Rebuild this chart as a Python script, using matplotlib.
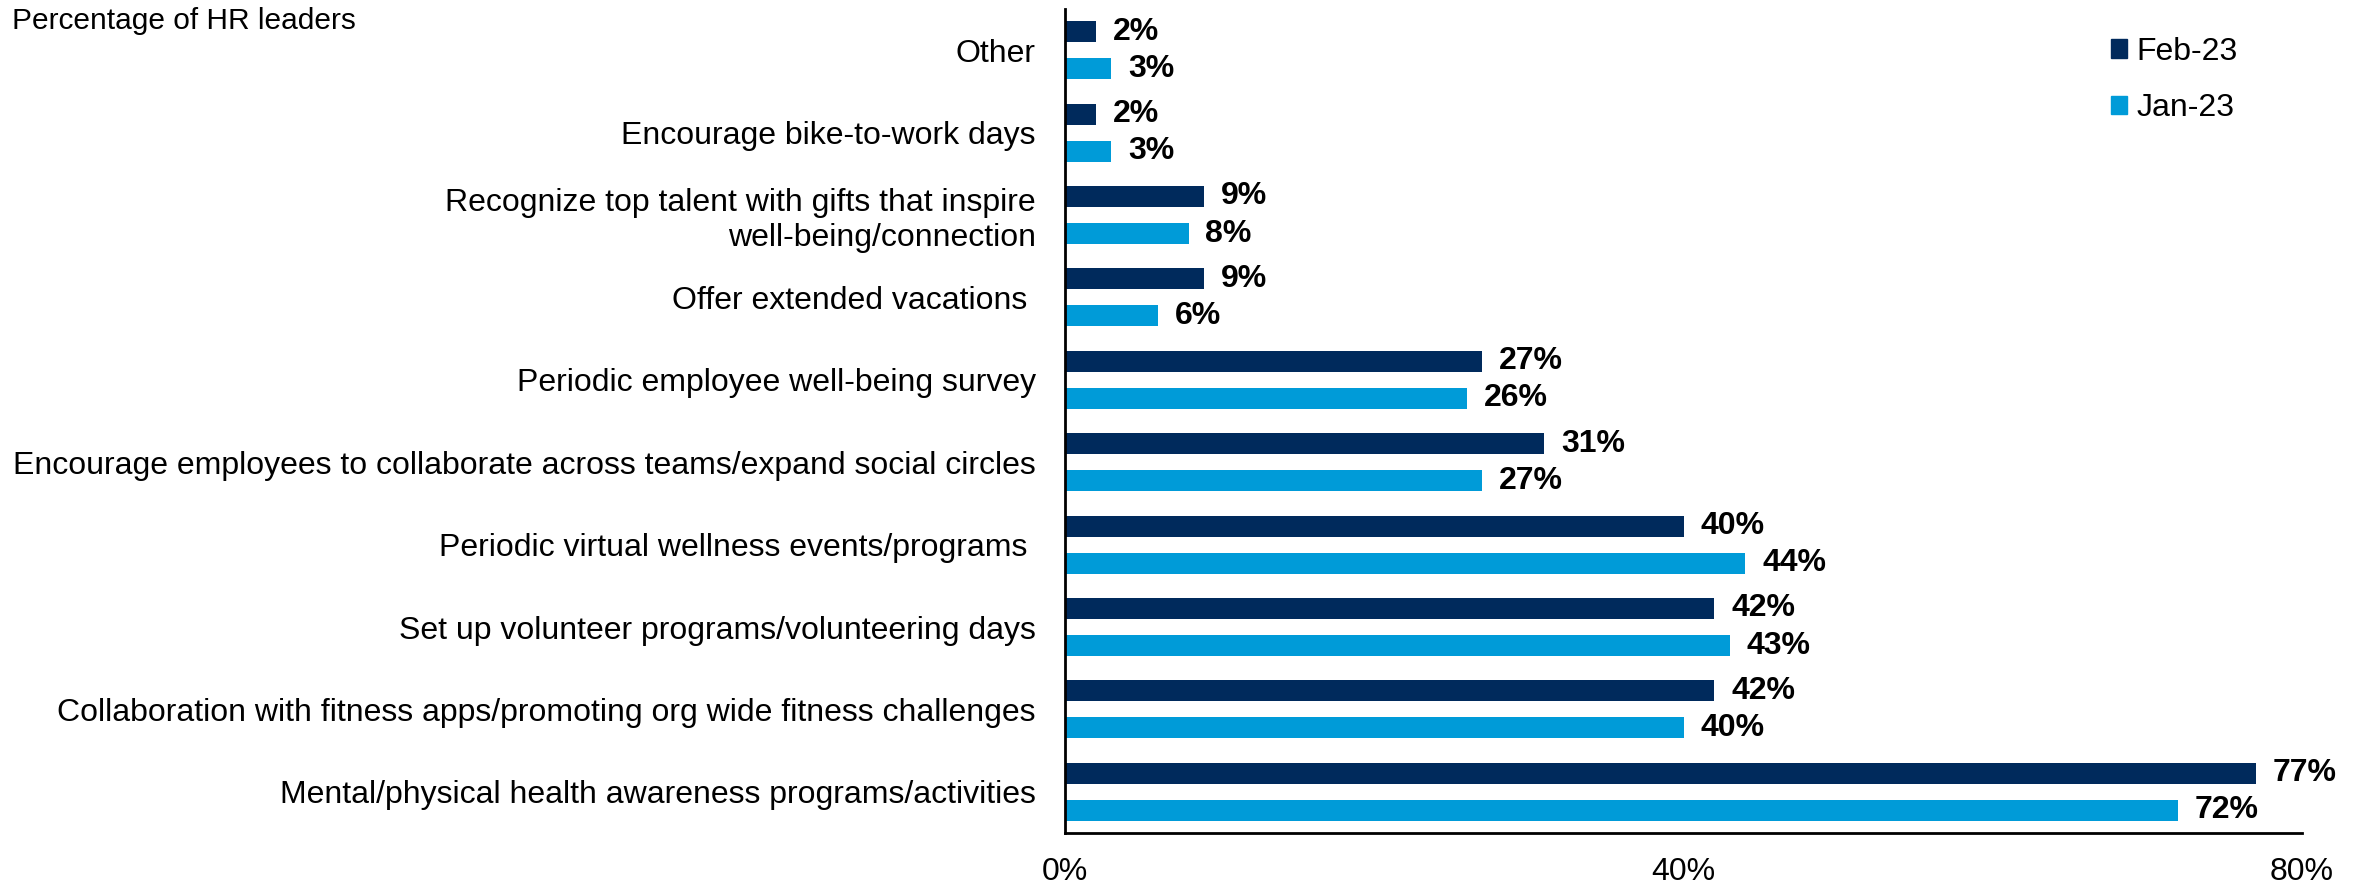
import matplotlib
matplotlib.use("Agg")
import matplotlib.pyplot as plt
from matplotlib.patches import Patch
import numpy as np

plt.rcParams['font.family'] = ['Liberation Sans', 'DejaVu Sans']

categories = [
    "Other",
    "Encourage bike-to-work days",
    "Recognize top talent with gifts that inspire\nwell-being/connection",
    "Offer extended vacations ",
    "Periodic employee well-being survey",
    "Encourage employees to collaborate across teams/expand social circles",
    "Periodic virtual wellness events/programs ",
    "Set up volunteer programs/volunteering days",
    "Collaboration with fitness apps/promoting org wide fitness challenges",
    "Mental/physical health awareness programs/activities",
]
feb_23 = [2, 2, 9, 9, 27, 31, 40, 42, 42, 77]
jan_23 = [3, 3, 8, 6, 26, 27, 44, 43, 40, 72]
series_names = ["Feb-23", "Jan-23"]
xticks = [0, 40, 80]

navy = "#002a5c"
blue = "#009bd8"
fs = 23

fig = plt.figure(figsize=(23.66, 8.86), dpi=100)
ax = fig.add_axes([1065 / 2366, 53 / 886, 1237 / 2366, 824 / 886])

y = np.arange(len(categories))
off = 0.225
h = 0.256
b1 = ax.barh(y - off, feb_23, height=h, color=navy)
b2 = ax.barh(y + off, jan_23, height=h, color=blue)

for bars in (b1, b2):
    ax.bar_label(bars, labels=[f"{v}%" for v in bars.datavalues],
                 padding=12, fontsize=fs, fontweight="bold", color="black")

ax.set_ylim(len(categories) - 0.5, -0.5)
ax.set_xlim(0, 80)
ax.set_yticks(y)
ax.set_yticklabels(categories, fontsize=fs, ha="right")
ax.set_xticks(xticks)
ax.set_xticklabels([f"{t}%" for t in xticks], fontsize=fs)
ax.tick_params(axis="y", length=0, pad=21)
ax.tick_params(axis="x", length=0, pad=17)

for s in ("top", "right"):
    ax.spines[s].set_visible(False)
for s in ("left", "bottom"):
    ax.spines[s].set_linewidth(2)
    ax.spines[s].set_color("black")

handles = [Patch(color=navy), Patch(color=blue)]
fig.legend(handles, series_names, loc="upper left",
           bbox_to_anchor=(2098 / 2366, 1 - 24 / 886), frameon=False,
           fontsize=fs, handlelength=0.5, handleheight=0.5,
           handletextpad=0.3, labelspacing=0.82, borderaxespad=0)

fig.text(12 / 2366, 1 - 7 / 886, "Percentage of HR leaders", fontsize=21.5,
         ha="left", va="top")

fig.savefig("out.png", dpi=100)
